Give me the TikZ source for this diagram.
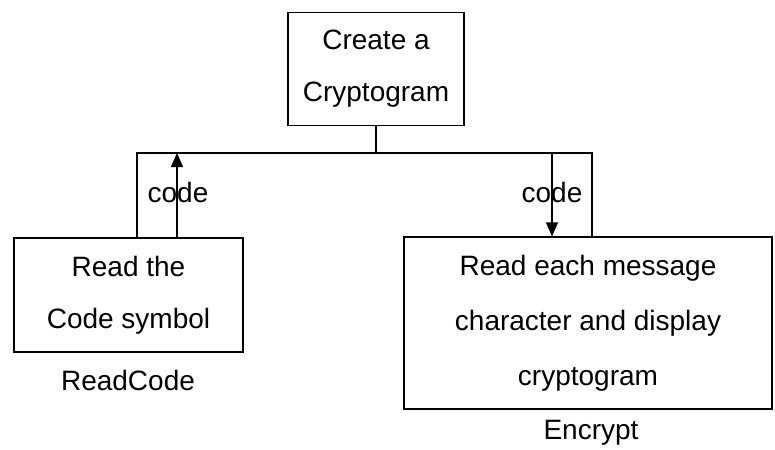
\documentclass[tikz,border=0pt]{standalone}
\usepackage{fontspec}
\setmainfont{Liberation Sans}
\usetikzlibrary{arrows.meta, positioning}

\begin{document}
\begin{tikzpicture}[
  x=0.5pt, y=-0.5pt,
  font=\fontsize{14}{26}\selectfont,
  module/.style={rectangle, draw=black, semithick, align=center,
                 inner sep=0pt},
  flow/.style={-{Triangle[length=7pt, width=6pt]}, semithick},
  tag/.style={inner sep=1pt}
]
\useasboundingbox (0,0) rectangle (775,449);

% -- modules of the structure chart --
\node[module, minimum width=88pt, minimum height=56.5pt] (create) at (376,69)
  {Create a\\Cryptogram};
\node[module, minimum width=114.5pt, minimum height=57pt] (readcode) at (128.5,295)
  {Read the\\Code symbol};
\node[module, minimum width=184pt, minimum height=86pt,
      font=\fontsize{14}{27.5}\selectfont] (encrypt) at (588,323)
  {Read each message\\character and display\\cryptogram};

% -- module names under the boxes --
\node (rcname) at (128,380) {ReadCode};
\node (enname) at (591,433) {Encrypt};

% -- call lines --
\coordinate (busL) at (137,153);
\coordinate (busR) at (592,153);
\draw[semithick] (create.south) -- (create.south |- busL);
\draw[semithick] (readcode.north -| busL) -- (busL) -- (busR) -- (encrypt.north -| busR);

% -- data couples --
\coordinate (upin)    at (177,153);
\coordinate (downout) at (552,153);
\draw[flow] (readcode.north -| upin) -- (upin);
\draw[flow] (downout) -- (encrypt.north -| downout);
\node[tag] (codeL) at (178,192) {code};
\node[tag] (codeR) at (552,192) {code};

\end{tikzpicture}
\end{document}
